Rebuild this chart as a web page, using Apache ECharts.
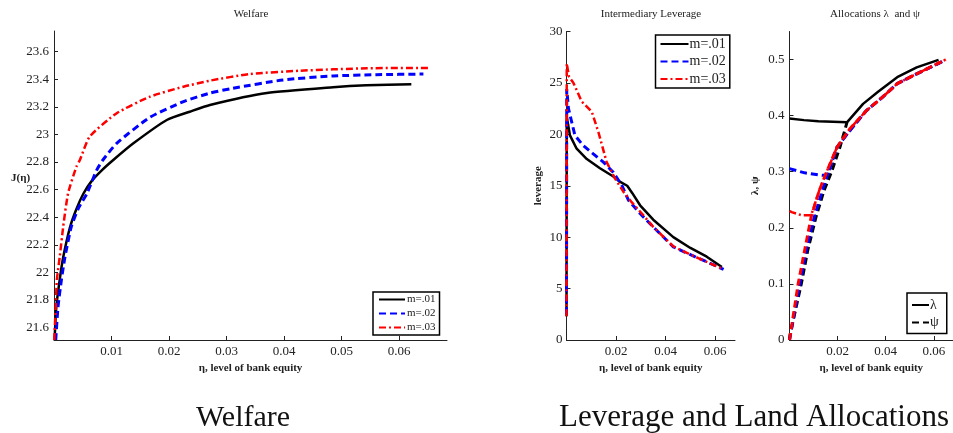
<!DOCTYPE html>
<html>
<head>
<meta charset="utf-8">
<script src="https://cdn.jsdelivr.net/npm/echarts@6/dist/echarts.min.js"></script>
<style>
html,body{margin:0;padding:0;background:#fff;}
#chart{width:953px;height:433px;}
</style>
</head>
<body>
<div id="chart"></div>
<script>
// ---------- Welfare J(eta) ----------
const welEta01 = [0.0001,0.0004,0.001,0.0016,0.0028,0.0039,0.0051,0.0065,0.0083,0.0103,0.0138,0.0196,0.0236,0.0271,0.037,0.0485,0.0543,0.0621];
const welJ01   = [21.51,21.75,21.95,22.11,22.33,22.46,22.57,22.66,22.74,22.815,22.936,23.105,23.165,23.214,23.30,23.342,23.356,23.364];
const welEta02 = [0.0003,0.0007,0.0013,0.0019,0.003,0.0043,0.0057,0.0074,0.0085,0.0109,0.0167,0.0225,0.0271,0.0311,0.0398,0.0485,0.056,0.0642];
const welJ02   = [21.51,21.75,21.95,22.11,22.33,22.47,22.57,22.74,22.815,22.936,23.125,23.238,23.30,23.335,23.395,23.424,23.433,23.438];
const welEta03 = [0.00005,0.0003,0.0005,0.001,0.0016,0.00245,0.0039,0.0045,0.0062,0.0109,0.0167,0.0225,0.0271,0.034,0.0427,0.0543,0.065];
const welJ03   = [21.51,21.75,21.946,22.114,22.332,22.574,22.767,22.815,22.984,23.154,23.274,23.346,23.39,23.438,23.462,23.48,23.482];

// ---------- Intermediary leverage ----------
const levEta01 = [0,0.0001,0.0004,0.0014,0.0041,0.0082,0.0135,0.0189,0.0215,0.0245,0.0265,0.0297,0.035,0.0431,0.05,0.0566,0.0627];
const lev01    = [2.3,21.8,21.3,19.9,18.6,17.6,16.7,15.9,15.4,15.0,14.3,13.1,11.7,10.0,8.95,8.1,7.1];
const levEta02 = [0,0.0001,0.0008,0.0021,0.0034,0.0068,0.0108,0.0149,0.0189,0.0223,0.025,0.0297,0.035,0.0431,0.05,0.0566,0.0634];
const lev02    = [2.5,24.4,22.5,21.2,19.9,18.9,18.1,17.3,16.3,15.05,13.6,12.3,11.0,9.06,8.3,7.6,6.86];
const levEta03 = [0,0.0001,0.001,0.0028,0.0061,0.0102,0.0129,0.0162,0.0196,0.023,0.0263,0.0304,0.035,0.0431,0.05,0.0566,0.0634];
const lev03    = [2.3,26.9,25.6,25.0,23.2,22.2,20.2,17.3,15.7,14.4,13.4,12.3,11.0,9.1,8.3,7.6,6.86];

// ---------- Allocations lambda and psi ----------
const lamEta01 = [0,0.006,0.012,0.018,0.0239,0.0306,0.0367,0.0448,0.0529,0.062];
const lam01    = [0.395,0.392,0.39,0.389,0.388,0.421,0.442,0.4685,0.486,0.4994];
const psiEta01 = [0,0.0002,0.0049,0.0076,0.011,0.0144,0.0175,0.021,0.0232,0.0239];
const psi01    = [0,0.009,0.1,0.16,0.219,0.267,0.30,0.344,0.377,0.388];
const lamEta02 = [0,0.0063,0.0137,0.0158,0.0198,0.0252,0.032,0.0387,0.0448,0.0529,0.0638];
const lam02    = [0.3055,0.298,0.2936,0.294,0.344,0.374,0.409,0.433,0.457,0.4745,0.497];
const psiEta02 = [0,0.0043,0.007,0.0103,0.0137,0.0164,0.0198,0.0252,0.032,0.0387,0.0448,0.0529,0.0638];
const psi02    = [0,0.1,0.16,0.219,0.267,0.3025,0.344,0.374,0.409,0.433,0.457,0.4745,0.497];
const lamEta03 = [0,0.0009,0.005,0.009,0.0124,0.0157,0.0198,0.025,0.032,0.0387,0.0448,0.0529,0.065];
const lam03    = [0.23,0.228,0.2224,0.2224,0.267,0.3025,0.344,0.376,0.409,0.433,0.457,0.4745,0.50];
const psiEta03 = [0,0.0036,0.0063,0.009,0.0124,0.0157,0.0198,0.025,0.032,0.0387,0.0448,0.0529,0.065];
const psi03    = [0,0.1,0.16,0.219,0.267,0.3025,0.344,0.376,0.409,0.433,0.457,0.4745,0.50];

// ---------- ticks / labels ----------
const welXTicks = [0.01,0.02,0.03,0.04,0.05,0.06];
const welYTicks = [21.6,21.8,22,22.2,22.4,22.6,22.8,23,23.2,23.4,23.6];
const levXTicks = [0.02,0.04,0.06];
const levYTicks = [0,5,10,15,20,25,30];
const allocXTicks = [0.02,0.04,0.06];
const allocYTicks = [0,0.1,0.2,0.3,0.4,0.5];
const seriesNames = ['m=.01','m=.02','m=.03'];
const allocNames = ['λ','ψ'];
const panelTitles = ['Welfare','Intermediary Leverage','Allocations λ  and ψ'];
const captions = ['Welfare','Leverage and Land Allocations'];
const xName = 'η, level of bank equity';
const yNames = ['J(η)','leverage','λ, ψ'];

const zip = (a,b) => a.map((v,i)=>[v,b[i]]);
const SERIF = '"Liberation Serif", "Times New Roman", serif';
const C_BLACK = '#000000', C_BLUE = '#0000ff', C_RED = '#ff0000';
const SOLID = 'solid', DASH = [7,4], DASHDOT = [7,3,2,3];

function xAxisCfg(idx, max, ticks){
  return {
    type:'value', gridIndex:idx, min:0, max:max,
    name:xName, nameLocation:'middle', nameGap:20,
    nameTextStyle:{fontFamily:SERIF, fontWeight:'bold', fontSize:11, color:'#222'},
    axisLine:{show:true, onZero:false, lineStyle:{color:'#222', width:1}},
    axisTick:{show:true, inside:true, length:4, customValues:ticks, lineStyle:{color:'#222'}},
    axisLabel:{customValues:ticks, fontFamily:SERIF, fontSize:13, color:'#222', margin:5},
    splitLine:{show:false}
  };
}
function yAxisCfg(idx, min, max, ticks, name, gap, margin){
  const c = {
    type:'value', gridIndex:idx, min:min, max:max,
    axisLine:{show:true, onZero:false, lineStyle:{color:'#222', width:1}},
    axisTick:{show:true, inside:true, length:4, customValues:ticks, lineStyle:{color:'#222'}},
    axisLabel:{customValues:ticks, fontFamily:SERIF, fontSize:13, color:'#222', margin:margin},
    splitLine:{show:false}
  };
  if(name){
    c.name = name; c.nameLocation='middle'; c.nameGap=gap;
    c.nameTextStyle = {fontFamily:SERIF, fontWeight:'bold', fontSize:11, color:'#222'};
  }
  return c;
}
function line(name, xi, data, color, type, width, smooth){
  return {
    type:'line', name:name, xAxisIndex:xi, yAxisIndex:xi, data:data,
    symbol:'none', showSymbol:false, smooth:smooth || false, animation:false,
    lineStyle:{color:color, type:type, width:width},
    itemStyle:{color:color}
  };
}
const legendText = (size, shift) => ({fontFamily:SERIF, fontSize:size, color:'#222', padding:[0,0,0,shift]});
const hideSym = {opacity:0, borderWidth:0};

const chart = echarts.init(document.getElementById('chart'), null, {renderer:'canvas'});
const option = {
  backgroundColor:'#ffffff',
  animation:false,
  title:[
    {text:panelTitles[0], left:246, top:4, textAlign:'center', textStyle:{fontFamily:SERIF, fontSize:11, fontWeight:'normal', color:'#222'}},
    {text:panelTitles[1], left:646, top:4, textAlign:'center', textStyle:{fontFamily:SERIF, fontSize:11, fontWeight:'normal', color:'#222'}},
    {text:panelTitles[2], left:870, top:4, textAlign:'center', textStyle:{fontFamily:SERIF, fontSize:11, fontWeight:'normal', color:'#222'}},
    {text:captions[0], left:238, top:398, textAlign:'center', textStyle:{fontFamily:SERIF, fontSize:30, fontWeight:'normal', color:'#111'}},
    {text:captions[1], left:749, top:397, textAlign:'center', textStyle:{fontFamily:SERIF, fontSize:31, fontWeight:'normal', color:'#111'}}
  ],
  grid:[
    {left:54, top:31, width:393, height:309},
    {left:566.5, top:31.5, width:168.5, height:308.5},
    {left:789.5, top:31.5, width:168, height:308.5}
  ],
  xAxis:[
    xAxisCfg(0, 0.0683, welXTicks),
    xAxisCfg(1, 0.068, levXTicks),
    xAxisCfg(2, 0.068, allocXTicks)
  ],
  yAxis:[
    yAxisCfg(0, 21.51, 23.75, welYTicks, null, 0, 5),
    yAxisCfg(1, 0, 30, levYTicks, yNames[1], 23, 4),
    yAxisCfg(2, 0, 0.55, allocYTicks, yNames[2], 29, 5)
  ],
  legend:[
    {data:seriesNames, orient:'vertical', left:373, top:292, padding:[2,4,2,5],
     itemWidth:26, itemHeight:11, itemGap:3, borderColor:'#000', borderWidth:1.5,
     backgroundColor:'#fff', selectedMode:false, itemStyle:hideSym,
     textStyle:legendText(11,-3)},
    {data:seriesNames, orient:'vertical', left:655.5, top:35, padding:[2,4,2,4],
     itemWidth:28, itemHeight:14, itemGap:3.5, borderColor:'#000', borderWidth:1.5,
     backgroundColor:'#fff', selectedMode:false, itemStyle:hideSym,
     textStyle:legendText(14,-4)},
    {data:allocNames, orient:'vertical', left:907, top:293, padding:[5,8,4,4],
     itemWidth:17, itemHeight:13, itemGap:3.5, borderColor:'#000', borderWidth:1.5,
     backgroundColor:'#fff', selectedMode:false, itemStyle:hideSym,
     textStyle:legendText(14,-4)}
  ],
  graphic:[
    {type:'text', left:11, top:173, style:{text:yNames[0], font:'bold 11px "Liberation Serif", serif', fill:'#222'}}
  ],
  series:[
    line(seriesNames[0], 0, zip(welEta01, welJ01), C_BLACK, SOLID, 2.5, 0.2),
    line(seriesNames[1], 0, zip(welEta02, welJ02), C_BLUE, DASH, 3, 0.2),
    line(seriesNames[2], 0, zip(welEta03, welJ03), C_RED, DASHDOT, 2.5, 0.2),
    line(seriesNames[0], 1, zip(levEta01, lev01), C_BLACK, SOLID, 2.5),
    line(seriesNames[1], 1, zip(levEta02, lev02), C_BLUE, DASH, 3),
    line(seriesNames[2], 1, zip(levEta03, lev03), C_RED, DASHDOT, 2.5),
    line(allocNames[0], 2, zip(lamEta01, lam01), C_BLACK, SOLID, 2.5),
    line(allocNames[1], 2, zip(psiEta01, psi01), C_BLACK, DASH, 3),
    line('ψ m=.02', 2, zip(psiEta02, psi02), C_BLUE, DASH, 3),
    line('λ m=.02', 2, zip(lamEta02, lam02), C_BLUE, DASH, 3),
    line('ψ m=.03', 2, zip(psiEta03, psi03), C_RED, DASH, 3),
    line('λ m=.03', 2, zip(lamEta03, lam03), C_RED, DASHDOT, 2.5)
  ]
};
chart.setOption(option);
</script>
</body>
</html>
